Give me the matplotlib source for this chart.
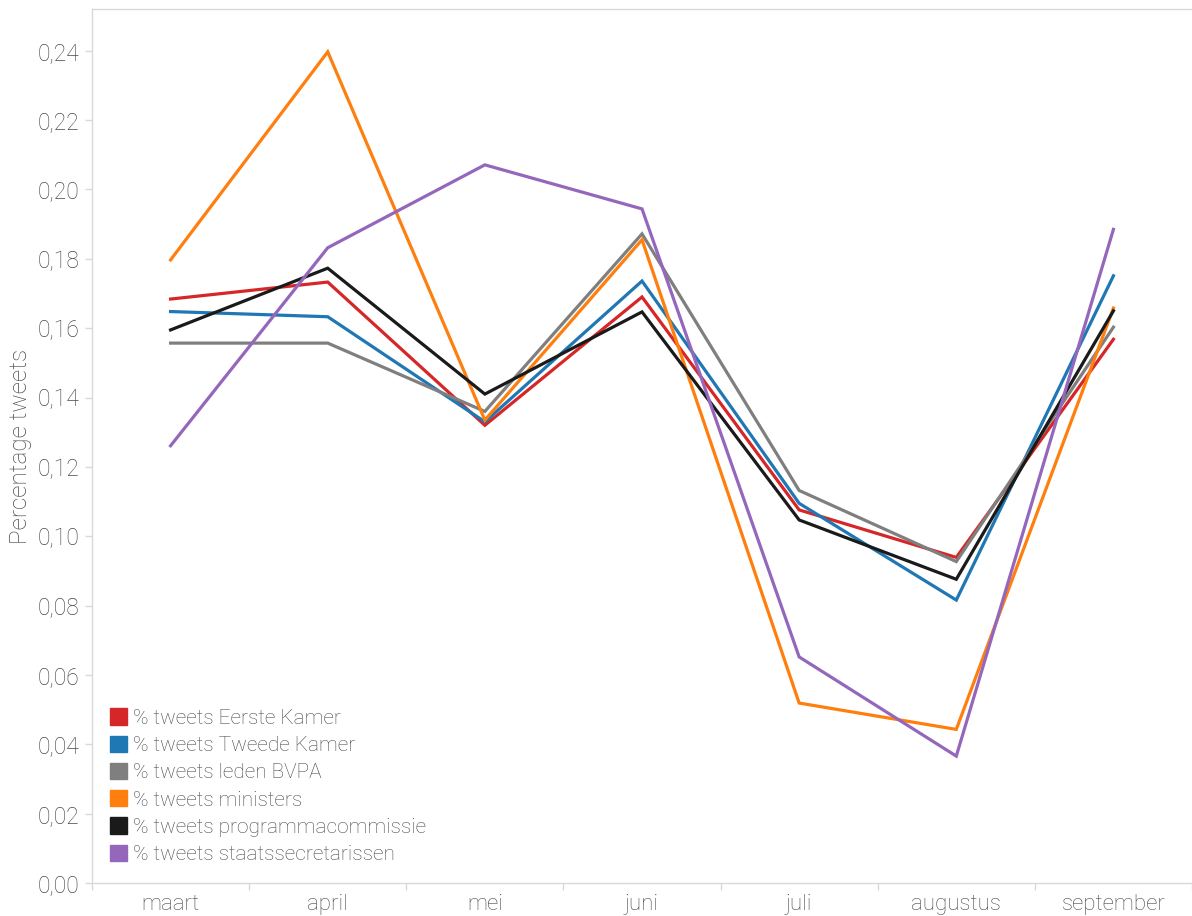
import matplotlib.pyplot as plt
import numpy as np
from matplotlib.ticker import FuncFormatter

plt.rcParams['font.family'] = ['Roboto', 'DejaVu Sans']
plt.rcParams['font.weight'] = 'light'
plt.rcParams['axes.labelweight'] = 'light'

months = ['maart', 'april', 'mei', 'juni', 'juli', 'augustus', 'september']

eerste_kamer = [0.1684, 0.1733, 0.1320, 0.1690, 0.1076, 0.0939, 0.1568]
tweede_kamer = [0.1648, 0.1633, 0.1330, 0.1736, 0.1095, 0.0816, 0.1751]
leden_bvpa = [0.1557, 0.1557, 0.1360, 0.1872, 0.1132, 0.0927, 0.1603]
ministers = [0.1797, 0.2397, 0.1335, 0.1855, 0.0519, 0.0443, 0.1658]
programmacommissie = [0.1595, 0.1773, 0.1410, 0.1647, 0.1047, 0.0876, 0.1650]
staatssecretarissen = [0.1261, 0.1832, 0.2071, 0.1944, 0.0652, 0.0366, 0.1885]

series = [
    ('% tweets Eerste Kamer', eerste_kamer, '#d62728'),
    ('% tweets Tweede Kamer', tweede_kamer, '#1f77b4'),
    ('% tweets leden BVPA', leden_bvpa, '#7f7f7f'),
    ('% tweets ministers', ministers, '#ff7f0e'),
    ('% tweets programmacommissie', programmacommissie, '#1a1a1a'),
    ('% tweets staatssecretarissen', staatssecretarissen, '#9467bd'),
]

text_grey = '#4a4a4a'
axis_grey = '#d9d9d9'

fig = plt.figure(figsize=(11.92, 9.16), dpi=100)
ax = fig.add_axes([0.0772, 0.036, 0.9228, 0.954])

x = np.arange(len(months))
for label, values, color in series:
    ax.plot(x, values, color=color, lw=2.3, label=label, solid_joinstyle='miter')

ax.set_xlim(-0.5, len(months) - 0.5)
ax.set_ylim(0, 0.252)

ax.set_xticks(x)
ax.set_xticklabels(months)
ax.set_xticks(np.arange(-0.5, len(months)), minor=True)
ax.tick_params(axis='x', which='major', length=0, pad=8, labelsize=16, labelcolor=text_grey)
ax.tick_params(axis='x', which='minor', length=5, color=axis_grey, width=1)

ax.set_yticks(np.arange(0, 0.25, 0.02))
ax.yaxis.set_major_formatter(FuncFormatter(lambda v, _: f'{v:.2f}'.replace('.', ',')))
ax.tick_params(axis='y', length=5, color=axis_grey, width=1, pad=4, labelsize=16.5, labelcolor=text_grey)

for side in ['left', 'bottom', 'top']:
    ax.spines[side].set_color(axis_grey)
    ax.spines[side].set_linewidth(1)
ax.spines['right'].set_visible(False)

ax.set_ylabel('Percentage tweets', fontsize=17.5, color=text_grey, labelpad=4)

handles = [plt.Rectangle((0, 0), 1, 1, color=c) for _, _, c in series]
labels = [lbl for lbl, _, _ in series]
leg = ax.legend(handles, labels, loc='lower left', bbox_to_anchor=(0.003, 0.005),
                frameon=False, fontsize=15, handlelength=0.82, handleheight=0.82,
                handletextpad=0.3, labelspacing=0.38, borderaxespad=0.3)
for t in leg.get_texts():
    t.set_color(text_grey)

fig.savefig('out.png', dpi=100)
